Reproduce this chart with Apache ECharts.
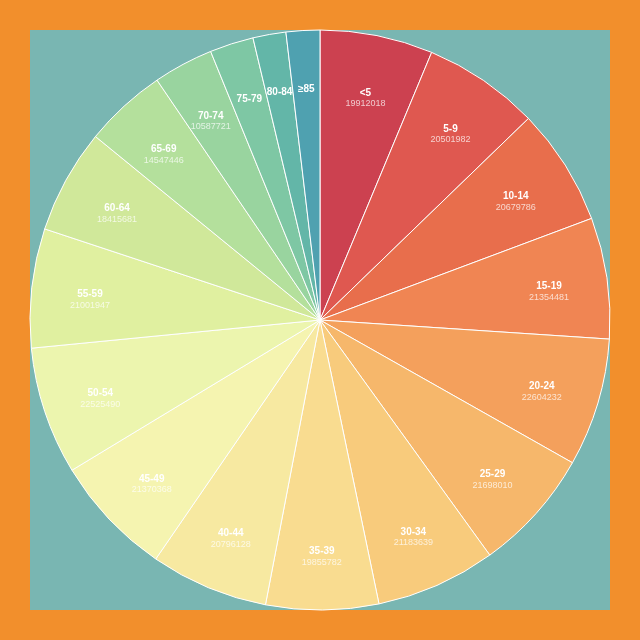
<!DOCTYPE html>
<html>
<head>
<meta charset="utf-8">
<script src="https://cdn.jsdelivr.net/npm/echarts@6/dist/echarts.min.js"></script>
<style>
html,body{margin:0;padding:0;background:#f28f2c;}
#chart{width:640px;height:640px;}
</style>
</head>
<body>
<div id="chart"></div>
<script>
const categories = ["<5","5-9","10-14","15-19","20-24","25-29","30-34","35-39","40-44","45-49","50-54","55-59","60-64","65-69","70-74","75-79","80-84","≥85"];
const values = [19912018,20501982,20679786,21354481,22604232,21698010,21183639,19855782,20796128,21370368,22525490,21001947,18415681,14547446,10587721,7730129,5811429,5938752];
const colors = ["#cc4150","#df5850","#e86e4c","#f08553","#f4a05c","#f6b76b","#f8cb7c","#f9dc90","#f7e9a1","#f5f4b0","#ecf5ae","#e0f0a0","#d0e89a","#b4e09c","#99d49f","#7ec7a4","#63b6a8","#4fa1b0"];

const pieData = categories.map((c, i) => ({ name: c, value: values[i], itemStyle: { color: colors[i] } }));
const labelData = categories.map((c, i) => ({ name: c, value: values[i] }));

const chart = echarts.init(document.getElementById('chart'), null, { renderer: 'canvas' });
chart.setOption({
  backgroundColor: '#f28f2c',
  animation: false,
  graphic: [{
    type: 'rect', z: -10, silent: true,
    shape: { x: 30, y: 30, width: 580, height: 580 },
    style: { fill: '#79b6b2' }
  }],
  series: [
    {
      type: 'pie',
      center: [320, 320],
      radius: [0, 290],
      startAngle: 90,
      clockwise: true,
      avoidLabelOverlap: false,
      label: { show: false },
      labelLine: { show: false },
      itemStyle: { borderColor: '#ffffff', borderWidth: 1 },
      emphasis: { disabled: true },
      data: pieData
    },
    {
      type: 'pie',
      center: [320, 320],
      radius: [167, 290],
      startAngle: 90,
      clockwise: true,
      silent: true,
      avoidLabelOverlap: false,
      itemStyle: { color: 'rgba(0,0,0,0)', borderWidth: 0 },
      labelLine: { show: false },
      emphasis: { disabled: true },
      label: {
        show: true,
        position: 'inside',
        fontFamily: '"Liberation Sans", Arial, sans-serif',
        formatter: function (p) {
          if (p.percent < 3) return '{a|' + p.name + '}';
          return '{e| }\n{a|' + p.name + '}\n{b|' + p.value + '}';
        },
        rich: {
          e: { fontSize: 9, lineHeight: 11, color: 'rgba(0,0,0,0)' },
          a: { fontSize: 10, fontWeight: 'bold', lineHeight: 11, color: '#ffffff', fontFamily: '"Liberation Sans", Arial, sans-serif' },
          b: { fontSize: 9, lineHeight: 11, color: 'rgba(255,255,255,0.72)', fontFamily: '"Liberation Sans", Arial, sans-serif' }
        }
      },
      data: labelData
    }
  ]
});
</script>
</body>
</html>
